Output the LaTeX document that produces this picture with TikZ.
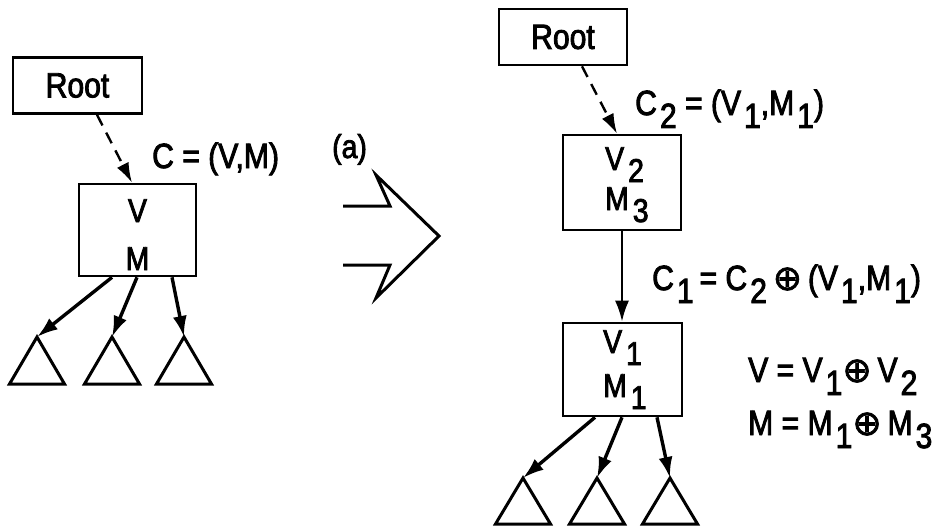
\documentclass[tikz,border=0pt]{standalone}
\usepackage{fontspec}
\setmainfont{Liberation Sans}
\newfontfamily\cndfont[FakeStretch=0.86,FakeBold=2.5]{Liberation Sans}
\newfontfamily\symfnt[FakeBold=2]{DejaVu Sans}
\usetikzlibrary{arrows.meta}
\newcommand\lw[1]{\hspace{3pt}\raisebox{-13pt}[0pt][0pt]{#1}}
\newcommand\bw[1]{\hspace{4pt}\raisebox{-12pt}[0pt][0pt]{#1}}
\newcommand\opl{{\symfnt ⊕}}
\begin{document}
\begin{tikzpicture}[x=1pt,y=-1pt,
  box/.style={draw, line width=2.6pt, inner sep=0pt},
  btxt/.style={inner sep=0pt, font=\fontsize{33}{36}\cndfont},
  lbl/.style={inner sep=0pt, font=\fontsize{35}{40}\cndfont},
  ptr/.style={line width=3.4pt, -{Latex[length=21pt,width=14pt]}},
  dptr/.style={line width=2.4pt, dash pattern=on 12pt off 8pt, -{Latex[length=20pt,width=13pt]}},
  tri/.style={line width=3pt, line join=miter},
  bigarrow/.style={line width=3pt, line join=miter}]
\path[use as bounding box] (0,0) rectangle (935,527);

% ---- left tree ----
\node[box, minimum width=129pt, minimum height=56pt, font=\fontsize{35}{36}\cndfont] (lroot) at (77.5,85.5) {Root};
\node[box, minimum width=117pt, minimum height=92pt] (lvm) at (137.5,230) {};
\node[btxt, anchor=base] (lv) at (137.5,222) {V};
\node[btxt, anchor=base] (lm) at (137.5,270) {M};
\draw[dptr] ([xshift=19.5pt]lroot.south) -- ([xshift=-5.5pt]lvm.north);
\node[lbl, anchor=base west] (lc) at (152,168) {C = (V,M)};

\coordinate (la) at (37,337);
\coordinate (lb) at (112,337);
\coordinate (lcc) at (184,337);
\foreach \p in {la,lb,lcc}{
  \draw[tri] (\p) -- ++(-27.5,47) -- ++(55,0) -- cycle;
}
\draw[ptr] ([xshift=-25.5pt]lvm.south) -- (la);
\draw[ptr] ([xshift=-0.5pt]lvm.south) -- (lb);
\draw[ptr] ([xshift=34.5pt]lvm.south) -- (lcc);

% ---- transformation arrow ----
\node[lbl, anchor=base west, font=\fontsize{33}{36}\cndfont] (alab) at (332,158) {(a)};
\draw[bigarrow] (343,206) -- (390,206) -- (376,175) -- (439,236) -- (376,298) -- (390,265) -- (343,265);

% ---- right tree ----
\node[box, minimum width=128pt, minimum height=56pt, font=\fontsize{35}{36}\cndfont] (rroot) at (563,37) {Root};
\node[box, minimum width=118pt, minimum height=95pt] (v2m3) at (622,182.5) {};
\node[btxt, anchor=base west] (v2) at (605,170) {V\bw{2}};
\node[btxt, anchor=base west] (m3) at (605,210) {M\bw{3}};
\node[box, minimum width=119pt, minimum height=93pt] (v1m1) at (622.5,369.5) {};
\node[btxt, anchor=base west] (v1) at (603,353) {V\bw{1}};
\node[btxt, anchor=base west] (m1) at (603,397) {M\bw{1}};
\draw[dptr] ([xshift=19pt]rroot.south) -- ([xshift=-5pt]v2m3.north);
\draw[ptr, line width=2.4pt] (v2m3.south) -- (v2m3.south |- v1m1.north);

\node[lbl, anchor=base west] (c2) at (635,115) {C\lw{2} = (V\lw{1},M\lw{1})};
\node[lbl, anchor=base west] (c1) at (652,290) {C\lw{1}\,= C\lw{2}\,\opl\,(V\lw{1},M\lw{1})};
\node[lbl, anchor=base west] (veq) at (748,382) {V = V\lw{1}\opl\,V\lw{2}};
\node[lbl, anchor=base west] (meq) at (748,435) {M = M\lw{1}\opl\,M\lw{3}};

\coordinate (ra) at (523,478);
\coordinate (rb) at (597,478);
\coordinate (rc) at (670,478);
\foreach \p in {ra,rb,rc}{
  \draw[tri] (\p) -- ++(-27.5,46) -- ++(55,0) -- cycle;
}
\draw[ptr] ([xshift=-27.5pt]v1m1.south) -- (ra);
\draw[ptr] ([xshift=-0.5pt]v1m1.south) -- (rb);
\draw[ptr] ([xshift=34.5pt]v1m1.south) -- (rc);
\end{tikzpicture}
\end{document}
